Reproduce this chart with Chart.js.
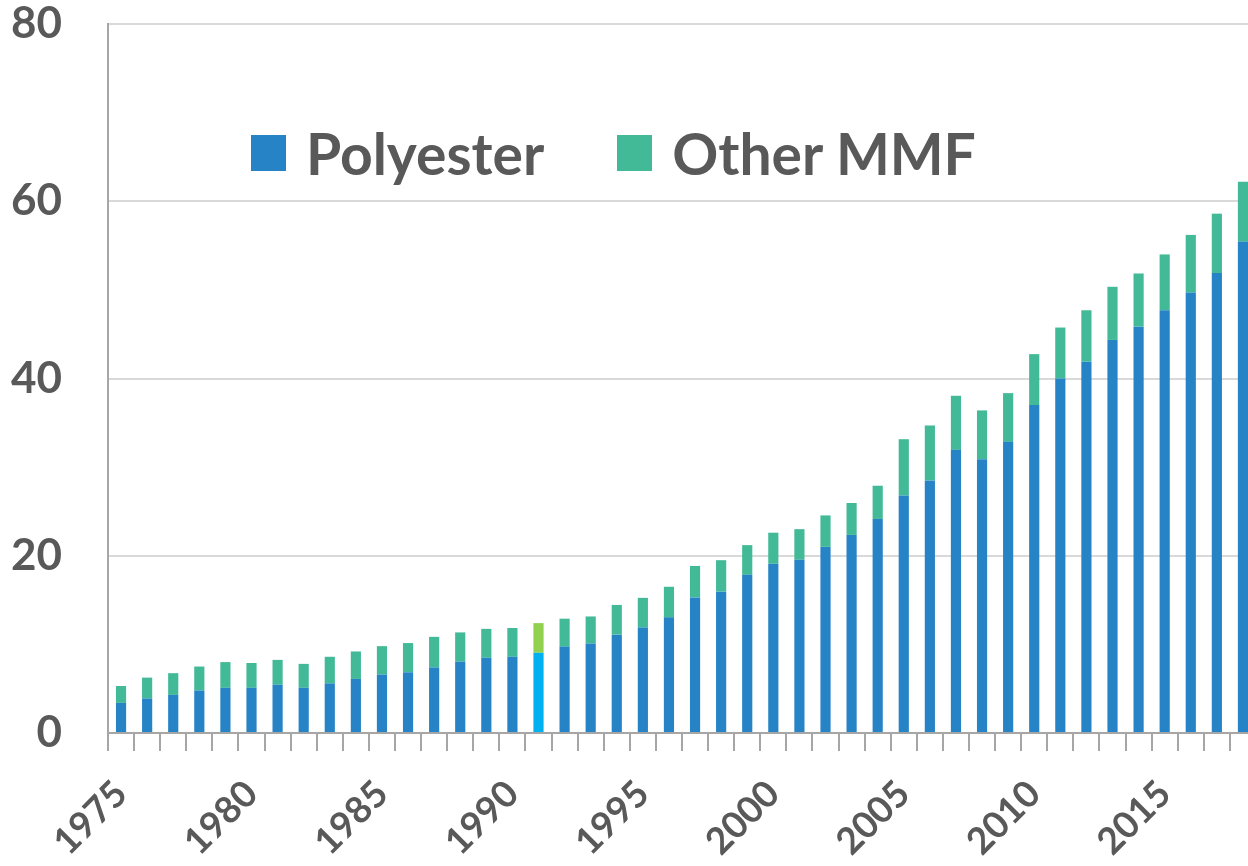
<!DOCTYPE html>
<html>
<head>
<meta charset="utf-8">
<script src="https://cdn.jsdelivr.net/npm/chart.js@4"></script>
<style>
  html, body { margin: 0; padding: 0; background: #fff; overflow: hidden; }
  #wrap { position: relative; width: 1248px; height: 866px; overflow: hidden; }
  #chart1 { position: absolute; left: 0; top: 0; }
  #legend { position: absolute; left: 251px; top: 126px; display: flex; align-items: center; }
  .item { display: flex; align-items: center; margin-right: 73px; }
  .box { width: 35px; height: 36px; margin-right: 20px; }
  .txt { font: bold 57px Lato, sans-serif; color: #595959; line-height: 54px; }
</style>
</head>
<body>
<div id="wrap">
  <canvas id="chart1" width="1256" height="866" style="width:1256px;height:866px"></canvas>
  <div id="legend"></div>
</div>
<script>
const years = ["1975","1976","1977","1978","1979","1980","1981","1982","1983","1984",
  "1985","1986","1987","1988","1989","1990","1991","1992","1993","1994",
  "1995","1996","1997","1998","1999","2000","2001","2002","2003","2004",
  "2005","2006","2007","2008","2009","2010","2011","2012","2013","2014",
  "2015","2016","2017","2018"];

// Mt
const polyester = [3.4, 3.9, 4.3, 4.8, 5.1, 5.1, 5.45, 5.1, 5.6, 6.1,
  6.6, 6.85, 7.4, 8.05, 8.5, 8.6, 9.05, 9.75, 10.1, 11.1,
  11.9, 13.05, 15.3, 15.95, 17.85, 19.1, 19.55, 21.0, 22.35, 24.15,
  26.8, 28.5, 31.95, 30.9, 32.85, 37.0, 40.0, 41.9, 44.35, 45.85,
  47.7, 49.7, 51.9, 55.45];

const otherMMF = [1.9, 2.35, 2.45, 2.7, 2.9, 2.8, 2.8, 2.7, 3.0, 3.1,
  3.2, 3.3, 3.45, 3.3, 3.25, 3.25, 3.35, 3.15, 3.05, 3.35,
  3.35, 3.45, 3.55, 3.55, 3.35, 3.5, 3.45, 3.55, 3.6, 3.75,
  6.35, 6.2, 6.1, 5.5, 5.5, 5.75, 5.75, 5.8, 6.0, 6.0,
  6.3, 6.5, 6.7, 6.75];

const yTicks = [0, 20, 40, 60, 80];
const highlightYear = "1991";

const BLUE = "#2683c6", GREEN = "#43ba97";
const BLUE_HI = "#00b0f0", GREEN_HI = "#92d050";
const TEXT = "#595959";

const polyColors = years.map((y) => (y === highlightYear ? BLUE_HI : BLUE));
const otherColors = years.map((y) => (y === highlightYear ? GREEN_HI : GREEN));

const ctx = document.getElementById("chart1").getContext("2d");
const chart = new Chart(ctx, {
  type: "bar",
  data: {
    labels: years,
    datasets: [
      { label: "Polyester", data: polyester, backgroundColor: polyColors, legendColor: BLUE },
      { label: "Other MMF", data: otherMMF, backgroundColor: otherColors, legendColor: GREEN },
    ],
  },
  options: {
    responsive: false,
    animation: false,
    devicePixelRatio: 1,
    layout: { padding: 0 },
    datasets: { bar: { categoryPercentage: 1, barPercentage: 0.39 } },
    plugins: { legend: { display: false }, tooltip: { enabled: false } },
    scales: {
      x: {
        stacked: true,
        afterFit: (s) => {
          s.height = 133;
          s.paddingLeft = 0;
          s.paddingRight = 0;
        },
        grid: { offset: true, drawOnChartArea: false, tickLength: 18, color: "#a6a6a6", lineWidth: 2 },
        border: { color: "#a6a6a6", width: 2 },
        ticks: {
          autoSkip: false,
          maxRotation: 45,
          minRotation: 45,
          padding: 21,
          color: TEXT,
          font: { family: "Lato", weight: "bold", size: 37 },
          callback: function (v) {
            const lab = this.getLabelForValue(v);
            return Number(lab) % 5 === 0 ? lab : "";
          },
        },
      },
      y: {
        stacked: true,
        min: 0,
        max: 80,
        afterFit: (s) => {
          s.width = 108;
          s.paddingTop = 24;
          s.paddingBottom = 0;
        },
        afterBuildTicks: (s) => { s.ticks = yTicks.map((v) => ({ value: v })); },
        grid: { color: "#d9d9d9", lineWidth: 2, drawTicks: false },
        border: { color: "#a6a6a6", width: 2 },
        ticks: { padding: 46, crossAlign: "near", color: TEXT, font: { family: "Lato", weight: "bold", size: 44 } },
      },
    },
  },
});

// html legend
const legend = document.getElementById("legend");
chart.data.datasets.forEach((ds) => {
  const item = document.createElement("div");
  item.className = "item";
  item.innerHTML = `<div class="box" style="background:${ds.legendColor}"></div><span class="txt">${ds.label}</span>`;
  legend.appendChild(item);
});
</script>
</body>
</html>
